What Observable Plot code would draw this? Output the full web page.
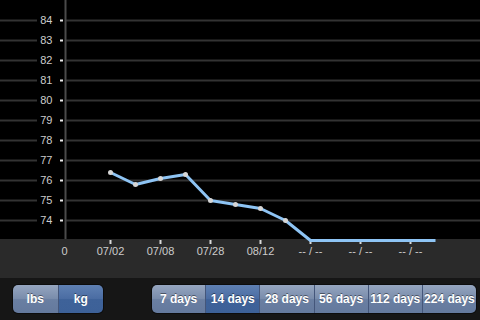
<!DOCTYPE html>
<html>
<head>
<meta charset="utf-8">
<script src="https://cdn.jsdelivr.net/npm/d3@7"></script>
<script src="https://cdn.jsdelivr.net/npm/@observablehq/plot@0.6"></script>
<style>
  html, body { margin: 0; padding: 0; background: #000; width: 480px; height: 320px; overflow: hidden; }
  #chart svg { display: block; }
  #controls { position: relative; width: 480px; height: 42px; background: #161616; }
  .seg { position: absolute; top: 7px; height: 28px; display: flex; border-radius: 5px; overflow: hidden;
         box-shadow: 0 0 0 1px #0c0c0c; }
  .seg div { flex: 1; display: flex; align-items: center; justify-content: center; color: #fff;
             font: bold 12px "Liberation Sans", Arial, sans-serif; text-shadow: 0 -1px 0 rgba(0,0,0,0.45);
             background: linear-gradient(#95a5bf 0%, #7a8dac 48%, #6a7fa2 52%, #64799d 100%);
             border-left: 1px solid #44567a; }
  .seg div:first-child { border-left: none; }
  .seg div.on { background: linear-gradient(#5f80b3 0%, #4b6da3 48%, #3e6299 52%, #3d6198 100%); }
</style>
</head>
<body>
<div id="chart"></div>
<div id="controls">
  <div class="seg" id="units" style="left:13px;width:90px"></div>
  <div class="seg" id="days" style="left:152px;width:324px"></div>
</div>
<script>
// Data
const pointIndex = [2, 3, 4, 5, 6, 7, 8, 9, 10, 11, 12, 13, 14, 15];
const weights = [76.4, 75.8, 76.1, 76.3, 75.0, 74.8, 74.6, 74.0, 73.0, 73.0, 73.0, 73.0, 73.0, 73.0];
const recorded = [true, true, true, true, true, true, true, true, false, false, false, false, false, false];
const xTickIndex = [0, 2, 4, 6, 8, 10, 12, 14];
const xTickLabels = ["0", "07/02", "07/08", "07/28", "08/12", "-- / --", "-- / --", "-- / --"];
const yTicks = [74, 75, 76, 77, 78, 79, 80, 81, 82, 83, 84];
const unitLabels = ["lbs", "kg"];
const unitSelected = "kg";
const dayLabels = ["7 days", "14 days", "28 days", "56 days", "112 days", "224 days"];
const daySelected = "14 days";

const points = pointIndex.map((x, i) => ({x, w: weights[i], rec: recorded[i]}));
const labelOf = i => xTickLabels[xTickIndex.indexOf(i)];

const chart = Plot.plot({
  width: 480,
  height: 278,
  marginLeft: 65,
  marginRight: 0,
  marginTop: 0,
  marginBottom: 38,
  x: {domain: [0.2, 16.8]},
  y: {domain: [73, 85]},
  style: {background: "transparent", color: "#cccccc", fontFamily: "'Liberation Sans', Arial, sans-serif", fontSize: "11px"},
  marks: [
    Plot.ruleY(yTicks, {y: d => d, x1: -2.4, x2: -0.92, stroke: "#333", strokeWidth: 2}),
    Plot.ruleY(yTicks, {y: d => d, x1: 0.24, x2: 16.8, stroke: "#333", strokeWidth: 2}),
    Plot.ruleX([0.2], {y1: 73.05, y2: 85, stroke: "#4a4a4a", strokeWidth: 2}),
    Plot.axisY({ticks: yTicks, tickSize: 3, dx: -2, tickPadding: 8, tickFormat: d => String(d), stroke: "#e8e8e8", strokeWidth: 2, label: null}),
    Plot.axisX({ticks: xTickIndex.slice(1), tickSize: 4, tickPadding: 3, tickFormat: labelOf, stroke: "#d8d8d8", strokeWidth: 2, label: null}),
    Plot.axisX({ticks: [0], tickSize: 0, tickPadding: 7, dx: 4, tickFormat: labelOf, label: null}),
    Plot.line(points, {x: "x", y: "w", stroke: "#8ec4f4", strokeWidth: 3, strokeLinejoin: "round", strokeLinecap: "butt"}),
    Plot.dot(points.filter(d => d.rec), {x: "x", y: "w", r: 2.5, fill: "#d6d6d6"})
  ]
});
chart.style.background = "linear-gradient(to bottom, #000 0px, #000 239px, #2a2a2a 239px, #2a2a2a 278px)";
document.getElementById("chart").append(chart);

function buildSeg(id, labels, sel) {
  const el = document.getElementById(id);
  labels.forEach(t => {
    const d = document.createElement("div");
    d.textContent = t;
    if (t === sel) d.className = "on";
    el.append(d);
  });
}
buildSeg("units", unitLabels, unitSelected);
buildSeg("days", dayLabels, daySelected);
</script>
</body>
</html>
